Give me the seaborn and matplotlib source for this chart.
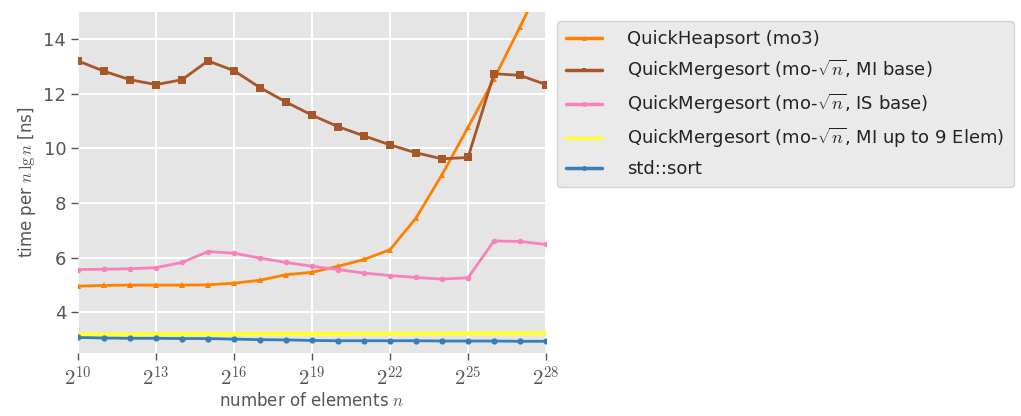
import numpy as np
import pandas as pd
import matplotlib
matplotlib.use('Agg')
import matplotlib.pyplot as plt
import seaborn as sns

# input sizes as powers of two
exponents = [10, 11, 12, 13, 14, 15, 16, 17, 18, 19, 20, 21, 22, 23, 24, 25, 26, 27, 28]

heapsort_mo3 = [4.95, 4.98, 4.99, 4.99, 4.99, 5.00, 5.06, 5.17, 5.37, 5.46,
                5.68, 5.93, 6.29, 7.45, 9.04, 10.77, 12.55, 14.46, 16.40]
merge_mi_base = [13.21, 12.83, 12.52, 12.34, 12.52, 13.21, 12.85, 12.23, 11.70, 11.22,
                 10.80, 10.46, 10.13, 9.84, 9.62, 9.67, 12.74, 12.68, 12.34]
merge_is_base = [5.56, 5.57, 5.59, 5.63, 5.82, 6.22, 6.16, 5.98, 5.82, 5.68,
                 5.56, 5.43, 5.34, 5.27, 5.21, 5.26, 6.61, 6.59, 6.48]
merge_mi_9 = [3.18, 3.18, 3.18, 3.19, 3.19, 3.19, 3.19, 3.20, 3.20, 3.20,
              3.20, 3.21, 3.21, 3.21, 3.21, 3.22, 3.22, 3.22, 3.23]
std_sort = [3.07, 3.05, 3.04, 3.04, 3.03, 3.03, 3.01, 2.99, 2.98, 2.96,
            2.95, 2.95, 2.95, 2.95, 2.94, 2.94, 2.94, 2.93, 2.93]

labels = ['QuickHeapsort (mo3)',
          r'QuickMergesort (mo-$\sqrt{n}$, MI base)',
          r'QuickMergesort (mo-$\sqrt{n}$, IS base)',
          r'QuickMergesort (mo-$\sqrt{n}$, MI up to 9 Elem)',
          'std::sort']
series = [heapsort_mo3, merge_mi_base, merge_is_base, merge_mi_9, std_sort]
colors = ['#FF7F00', '#A65628', '#F781BF', '#FFFF33', '#377EB8']
markers = ['^', 's', 'o', None, 'o']
msizes = [4.5, 6, 4, 0, 4.5]
lwidths = [2, 2, 2, 3, 2]

sns.set_theme(style='darkgrid', rc={
    'axes.facecolor': '#E5E5E5',
    'grid.color': 'white',
    'grid.linewidth': 1.4,
})
plt.rcParams['font.family'] = ['DejaVu Sans']
plt.rcParams['mathtext.fontset'] = 'cm'
plt.rcParams['text.color'] = '#333333'

fig = plt.figure(figsize=(10.21, 4.16), dpi=100)
ax = fig.add_axes([0.0764, 0.1514, 0.4584, 0.8196])

for lab, vals, col, mk, ms, lw in zip(labels, series, colors, markers, msizes, lwidths):
    df = pd.DataFrame({'n': [2 ** e for e in exponents], 'time': vals})
    sns.lineplot(data=df, x='n', y='time', ax=ax, color=col, marker=mk,
                 markersize=ms, markeredgewidth=0, linewidth=lw, label=lab)

ax.set_xscale('log', base=2)
ax.set_xlim(2 ** 10, 2 ** 28)
ax.set_ylim(2.5, 15)
xt = exponents[::3]
ax.set_xticks([2 ** e for e in xt])
ax.set_xticklabels([r'$2^{%d}$' % e for e in xt], fontsize=15)
ax.xaxis.set_minor_locator(matplotlib.ticker.NullLocator())
ax.set_yticks([4, 6, 8, 10, 12, 14])
ax.tick_params(axis='y', labelsize=13, colors='#555555', length=5, width=1, direction='out', left=True)
ax.tick_params(axis='x', colors='#555555', length=5, width=1, direction='out', bottom=True, pad=4)
for s in ax.spines.values():
    s.set_visible(False)

ax.set_xlabel(r'number of elements $n$', fontsize=12, color='#555555', labelpad=2)
ax.set_ylabel(r'time per $n\,\lg n$ [ns]', fontsize=12, color='#555555')

leg = ax.legend(loc='upper left', bbox_to_anchor=(1.0235, 0.974), borderaxespad=0,
                fontsize=13, frameon=True, facecolor='#E5E5E5', edgecolor='#CCCCCC',
                framealpha=0.8, handlelength=2.0, handletextpad=1.4, labelspacing=0.55,
                borderpad=0.5)
for line in leg.get_lines():
    line.set_linewidth(2.5)
    line.set_markersize(3.5)
for t in leg.get_texts():
    t.set_color('#222222')

fig.savefig('out.png', dpi=100)
